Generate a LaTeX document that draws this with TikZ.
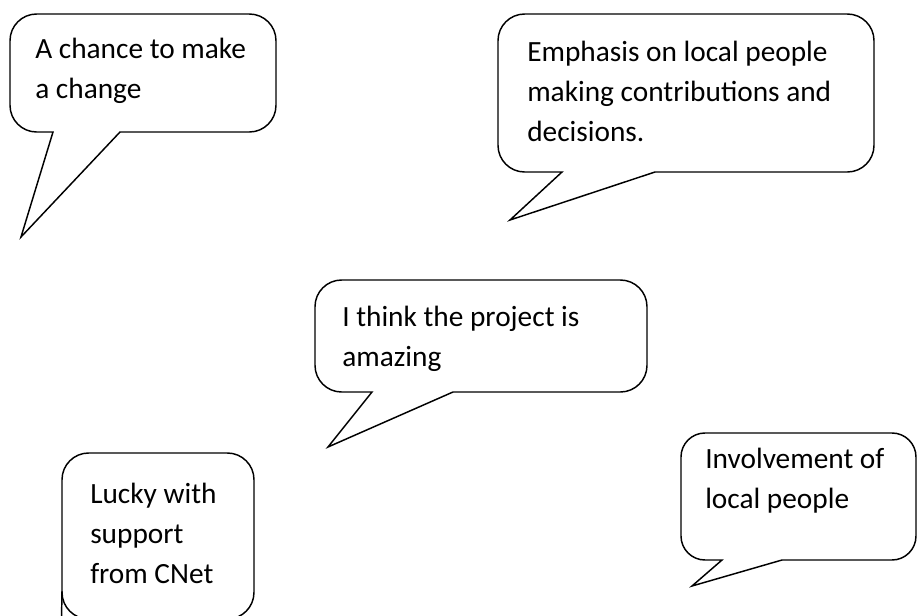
\documentclass[tikz,border=0pt]{standalone}
\usepackage{fontspec}
\setmainfont{Carlito}
\tikzset{
  bubble/.style={line width=1.1, draw=black, fill=white},
  saying/.style={anchor=base west, inner sep=0, align=left,
    font=\fontsize{22}{30}\selectfont},
}
\begin{document}
\begin{tikzpicture}[x=0.75pt,y=0.75pt,yscale=-1,xscale=1]
\useasboundingbox (0,0) rectangle (918,615);
\clip (0,0) rectangle (918,615);

%Shape: Speech Bubble [chance]
\draw [bubble] (53,132) [rounded corners=20] -- (10,132) -- (10,14) -- (276,14) -- (276,132) [sharp corners] -- (120,132) -- (21,237) -- cycle ;
%Shape: Speech Bubble [emphasis]
\draw [bubble] (562,172) [rounded corners=20] -- (498,172) -- (498,14) -- (874,14) -- (874,172) [sharp corners] -- (655,172) -- (510,220) -- cycle ;
%Shape: Speech Bubble [amazing]
\draw [bubble] (372,392) [rounded corners=20] -- (315,392) -- (315,280) -- (647,280) -- (647,392) [sharp corners] -- (453,392) -- (328,447) -- cycle ;
%Shape: Speech Bubble [lucky]
\draw [bubble] (150,453) [rounded corners=20] -- (254,453) -- (254,619) -- (62,619) -- (62,453) -- cycle ;
\draw [bubble] (62,591) -- (61,650) ;
%Shape: Speech Bubble [involvement]
\draw [bubble] (722,560) [rounded corners=18] -- (681,560) -- (681,433) -- (916,433) -- (916,560) [sharp corners] -- (782,560) -- (692,586) -- cycle ;

%Text (anchored on the baseline of the last line)
\node [saying] (chance) at (35,98) {A chance to make\\a change};
\node [saying] (emphasis) at (527,141) {Emphasis on local people\\making contributions and\\decisions.};
\node [saying] (amazing) at (342,366) {I think the project is\\amazing};
\node [saying] (lucky) at (90,583) {Lucky with\\support\\from CNet};
\node [saying] (involvement) at (705,508) {Involvement of\\local people};

\end{tikzpicture}
\end{document}
